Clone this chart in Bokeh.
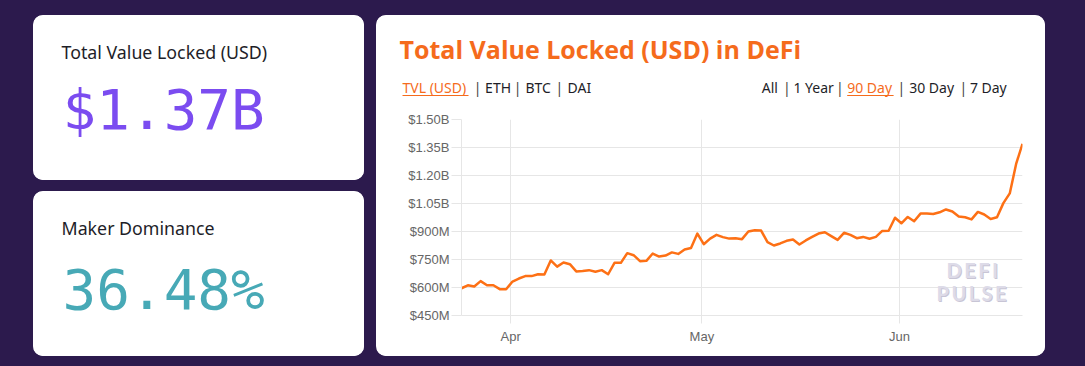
import pandas as pd
from bokeh.plotting import figure
from bokeh.models import Range1d, Label, FixedTicker, DatetimeTickFormatter, MonthsTicker
from bokeh.layouts import row, column
from bokeh.embed import file_html
from bokeh.resources import INLINE

# ---------------- data ----------------
metric_titles = ["Total Value Locked (USD)", "Maker Dominance"]
metric_values = ["$1.37B", "36.48%"]

chart_title = "Total Value Locked (USD) in DeFi"
series_tabs = ["TVL (USD)", "ETH", "BTC", "DAI"]
period_tabs = ["All", "1 Year", "90 Day", "30 Day", "7 Day"]
active_series = "TVL (USD)"
active_period = "90 Day"

# daily TVL, millions USD, 2020-03-24 .. 2020-06-20
tvl_musd = [596, 612, 605, 634, 612, 612, 591, 591, 632, 648,
            661, 661, 671, 670, 745, 712, 734, 725, 686, 689,
            693, 684, 693, 671, 732, 732, 784, 773, 741, 743,
            782, 766, 771, 788, 780, 804, 812, 889, 832, 862,
            882, 870, 862, 864, 859, 900, 907, 905, 843, 825,
            836, 850, 857, 830, 852, 871, 889, 896, 875, 855,
            893, 882, 864, 871, 861, 871, 903, 904, 974, 944,
            978, 955, 996, 996, 994, 1003, 1018, 1007, 980, 976,
            965, 1005, 991, 967, 976, 1052, 1104, 1262, 1370]
first_day = "2020-03-24 07:00"
dates = pd.date_range(first_day, periods=len(tvl_musd), freq="D")

y_ticks = [450, 600, 750, 900, 1050, 1200, 1350, 1500]
y_tick_labels = ["$450M", "$600M", "$750M", "$900M", "$1.05B", "$1.20B", "$1.35B", "$1.50B"]

# ---------------- style ----------------
BG = "#2c1a4d"
PURPLE = "#7b4cf0"
TEAL = "#47a9b6"
ORANGE = "#f56b1c"
LINE = "#fd7015"
DARK = "#1e1e28"
GRID = "#e6e6e6"
UI_FONT = "Noto Sans"
TITLE_FONT = "Open Sans"
WM_FONT = "Lato"
NUM_FONT = "DejaVu Sans Mono"
BASE_FIX = 0.33   # label baseline correction (em)


def blank_fig(w, h, radius):
    f = figure(width=w, height=h, x_range=Range1d(0, w), y_range=Range1d(h, 0),
               output_backend="svg", toolbar_location=None,
               x_axis_location=None, y_axis_location=None, min_border=0)
    f.frame_align = False
    f.grid.visible = False
    f.outline_line_color = None
    f.background_fill_color = "white"
    f.border_fill_color = "white"
    f.styles = {"border-radius": radius, "overflow": "hidden", "background-color": "white"}
    return f


def dlab(f, x, base, text, color, size, font=UI_FONT, style="normal"):
    f.add_layout(Label(x=x, y=base - BASE_FIX * size, text=text, text_font=font,
                       text_font_size="%spx" % size, text_color=color, text_font_style=style,
                       text_baseline="alphabetic", text_align="left"))


def card(title, val, color, base_v):
    f = blank_fig(331, 165, "10px")
    dlab(f, 28, 42.5, title, DARK, 17.8)
    dlab(f, 29, base_v, val, color, 56, font=NUM_FONT)
    return f


c1 = card(metric_titles[0], metric_values[0], PURPLE, 112.5)
c2 = card(metric_titles[1], metric_values[1], TEAL, 116.0)

# ---------------- chart card: header ----------------
CW, CH = 669, 341
HH = 95
hdr = blank_fig(CW, HH, "10px 10px 0 0")
dlab(hdr, 23, 41.8, chart_title, ORANGE, 25, font=TITLE_FONT, style="bold")

series_x = [26, 108.6, 149, 191]
sep_left = [100.3, 140.2, 181.9]
period_x = [385.2, 416.9, 470.7, 532.7, 593.4]
sep_right = [409.5, 462.4, 524, 586]
TAB_BASE = 77.0
TAB_SIZE = 14

for t, x in zip(series_tabs, series_x):
    dlab(hdr, x, TAB_BASE, t, ORANGE if t == active_series else DARK, TAB_SIZE)
for x in sep_left + sep_right:
    dlab(hdr, x - 3, TAB_BASE, "|", "#444444", TAB_SIZE)
for t, x in zip(period_tabs, period_x):
    dlab(hdr, x, TAB_BASE, t, ORANGE if t == active_period else DARK, TAB_SIZE)

# underlines of the active tabs
hdr.segment(x0=[26, 470.7], y0=[80, 80], x1=[92, 517.1], y1=[80, 80],
            line_color=ORANGE, line_width=1)

# ---------------- chart card: plot ----------------
PH = CH - HH
FL, FR, FT, FB = 85, 23, 9, 41
p = figure(width=CW, height=PH, x_axis_type="datetime",
           x_range=Range1d(dates[0], dates[-1]), y_range=Range1d(450, 1500),
           output_backend="svg", toolbar_location=None,
           min_border_left=FL, min_border_right=FR, min_border_top=FT, min_border_bottom=FB)
p.frame_align = False
p.styles = {"border-radius": "0 0 10px 10px", "overflow": "hidden", "background-color": "white"}
p.background_fill_color = "white"
p.border_fill_color = "white"
p.outline_line_color = None

p.line(dates, tvl_musd, line_width=2.5, line_color=LINE, line_join="round")

p.yaxis.ticker = FixedTicker(ticks=y_ticks)
p.yaxis.major_label_overrides = dict(zip(y_ticks, y_tick_labels))
p.xaxis.ticker = MonthsTicker(months=list(range(12)))
p.xaxis.formatter = DatetimeTickFormatter(months="%b", days="%b", hours="%b")
for ax in (p.xaxis, p.yaxis):
    ax.axis_line_color = GRID
    ax.major_tick_line_color = GRID
    ax.minor_tick_line_color = None
    ax.major_tick_in = 0
    ax.major_label_text_font = "Liberation Sans"
    ax.major_label_text_font_size = "13px"
    ax.major_label_text_color = "#666666"
p.yaxis.major_tick_out = 10
p.yaxis.major_label_standoff = 2
p.xaxis.major_tick_out = 8
p.xaxis.major_label_standoff = 5
p.xgrid.grid_line_color = GRID
p.ygrid.grid_line_color = GRID

FRAME_BOTTOM = CH - FB   # from card top


def flab(x, base, text, color, size, style="normal", font=UI_FONT):
    # card coordinates -> frame-relative screen units (inside the frame only)
    p.add_layout(Label(x=x - FL, y=FRAME_BOTTOM - (base - BASE_FIX * size),
                       x_units="screen", y_units="screen", text=text,
                       text_font=font, text_font_size="%spx" % size, text_color=color,
                       text_font_style=style, text_baseline="alphabetic", text_align="left"))


# watermark
for dx, dy, col in [(1, 1, "#c8c5d5"), (0, 0, "#dddbe8")]:
    flab(570 + dx, 261 + dy, "D\u2009E\u2009F\u2009I", col, 20, style="bold", font=WM_FONT)
    flab(560 + dx, 284 + dy, "P\u2009U\u2009L\u2009S\u2009E", col, 20, style="bold", font=WM_FONT)

layout = row(column(c1, c2, spacing=11), column(hdr, p, spacing=0), spacing=12,
             margin=(15, 0, 0, 33))

html = file_html(layout, INLINE)
html = html.replace("</head>", "<style>html, body { background-color: %s; }</style></head>" % BG, 1)
open("out.html", "w").write(html)
